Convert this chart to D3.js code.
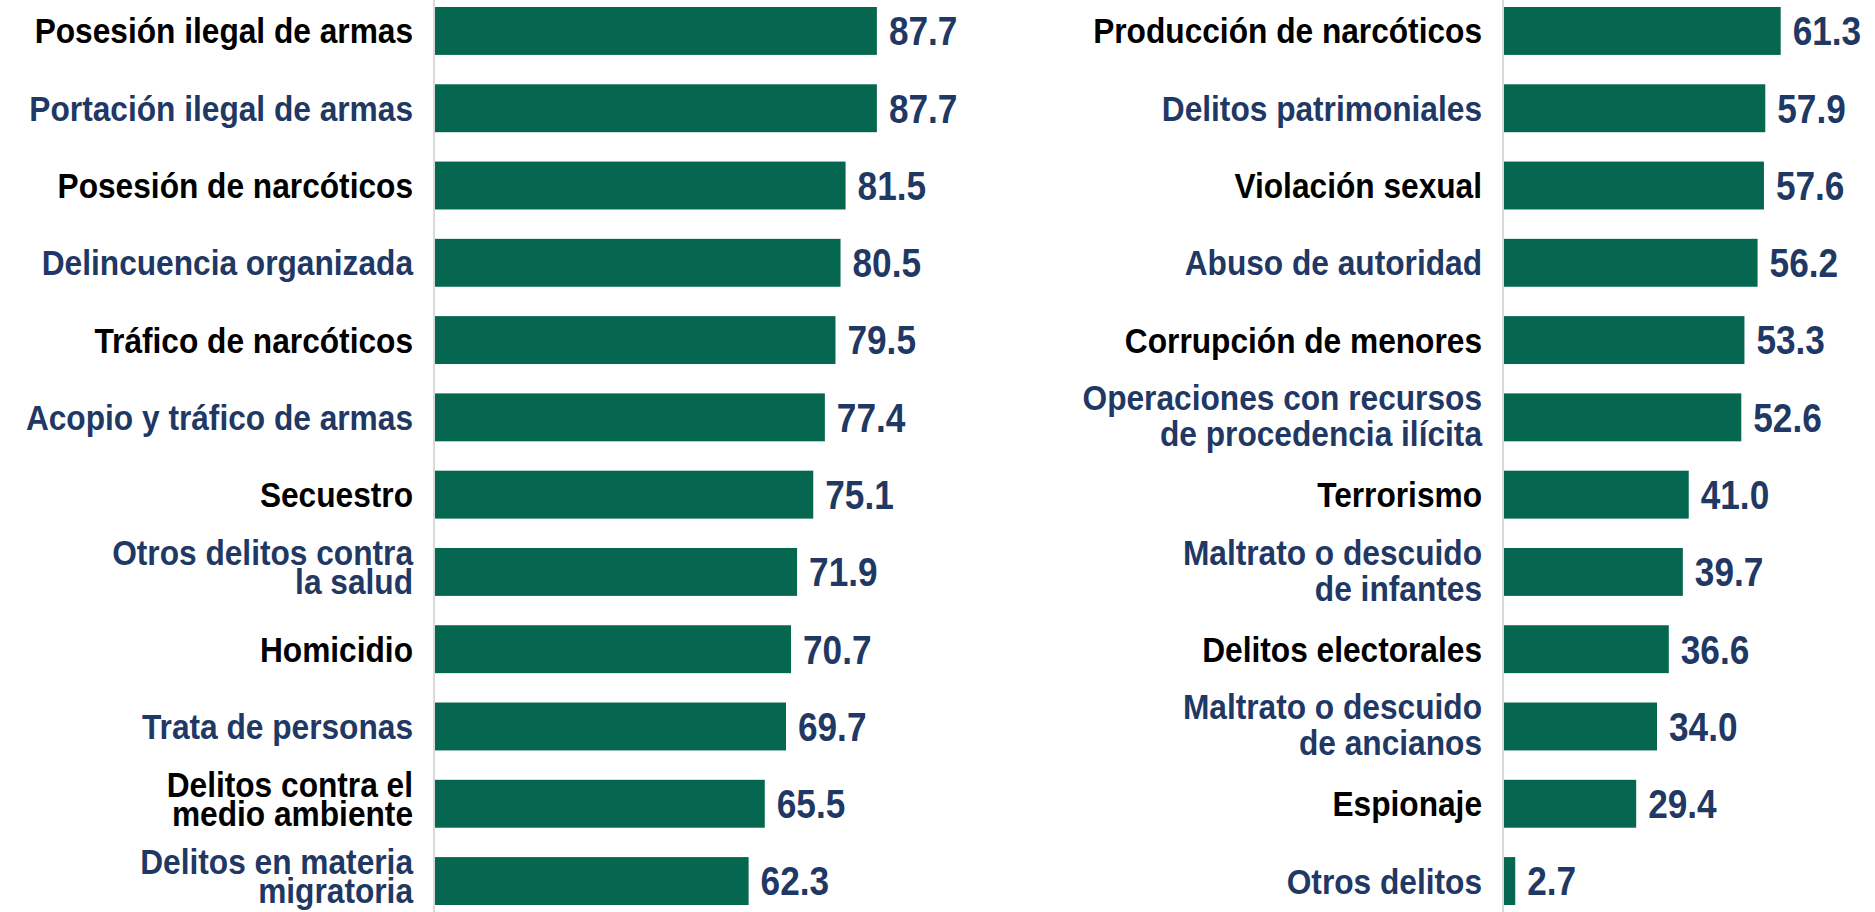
<!DOCTYPE html>
<html>
<head>
<meta charset="utf-8">
<script src="https://cdn.jsdelivr.net/npm/d3@7/dist/d3.min.js"></script>
<style>
  body { margin: 0; background: #fff; }
  svg text { font-family: "Liberation Sans", Arial, sans-serif; font-weight: bold; }
</style>
</head>
<body>
<div id="chart"></div>
<script>
// "|" marks a line break in a label
var leftLabels = [
  "Posesión ilegal de armas",
  "Portación ilegal de armas",
  "Posesión de narcóticos",
  "Delincuencia organizada",
  "Tráfico de narcóticos",
  "Acopio y tráfico de armas",
  "Secuestro",
  "Otros delitos contra|la salud",
  "Homicidio",
  "Trata de personas",
  "Delitos contra el|medio ambiente",
  "Delitos en materia|migratoria"
];
var leftValues = [87.7, 87.7, 81.5, 80.5, 79.5, 77.4, 75.1, 71.9, 70.7, 69.7, 65.5, 62.3];

var rightLabels = [
  "Producción de narcóticos",
  "Delitos patrimoniales",
  "Violación sexual",
  "Abuso de autoridad",
  "Corrupción de menores",
  "Operaciones con recursos|de procedencia ilícita",
  "Terrorismo",
  "Maltrato o descuido|de infantes",
  "Delitos electorales",
  "Maltrato o descuido|de ancianos",
  "Espionaje",
  "Otros delitos"
];
var rightValues = [61.3, 57.9, 57.6, 56.2, 53.3, 52.6, 41.0, 39.7, 36.6, 34.0, 29.4, 2.7];

(function () {
  var width = 1875;
  var height = 912;
  var green = "#05674f";
  var navy = "#1f3864";
  var squeeze = 0.88;

  var svg = d3.select("#chart")
    .append("svg")
    .attr("width", width)
    .attr("height", height);

  var y = d3.scaleBand()
    .domain(d3.range(12))
    .range([7, 905])
    .paddingInner(0.38)
    .paddingOuter(0);

  function panel(labels, values, x0, x1, lineH) {
    var x = d3.scaleLinear().domain([0, 100]).range([x0, x1]);
    var g = svg.append("g");

    g.append("line")
      .attr("x1", x(0)).attr("x2", x(0))
      .attr("y1", 0).attr("y2", height)
      .attr("stroke", "#d9d9d9")
      .attr("stroke-width", 2);

    g.selectAll(".bar")
      .data(values)
      .enter().append("rect")
      .attr("class", "bar")
      .attr("x", x(0) + 1)
      .attr("y", function (d, i) { return y(i); })
      .attr("width", function (d) { return x(d) - x(0) - 1; })
      .attr("height", y.bandwidth())
      .attr("fill", green);

    g.selectAll(".val")
      .data(values)
      .enter().append("text")
      .attr("class", "val")
      .attr("transform", function (d, i) {
        return "translate(" + (x(d) + 12) + "," + (y(i) + y.bandwidth() / 2) + ") scale(" + squeeze + ",1)";
      })
      .attr("dy", "0.36em")
      .attr("font-size", 40)
      .attr("fill", navy)
      .text(function (d) { return d.toFixed(1); });

    var lab = g.selectAll(".lab")
      .data(labels)
      .enter().append("text")
      .attr("class", "lab")
      .attr("transform", function (d, i) {
        var c = y(i) + y.bandwidth() / 2;
        var base = d.indexOf("|") < 0 ? c + 12.5 : c - 7;
        return "translate(" + (x(0) - 21) + "," + base + ") scale(" + squeeze + ",1)";
      })
      .attr("text-anchor", "end")
      .attr("font-size", 36)
      .attr("fill", function (d, i) { return i % 2 ? navy : "#000"; });

    lab.selectAll("tspan")
      .data(function (d) { return d.split("|"); })
      .enter().append("tspan")
      .attr("x", 0)
      .attr("dy", function (d, j) { return j ? lineH : 0; })
      .text(function (d) { return d; });
  }

  panel(leftLabels, leftValues, 434, 939, 29);
  panel(rightLabels, rightValues, 1503, 1956, 36);
})();
</script>
</body>
</html>
